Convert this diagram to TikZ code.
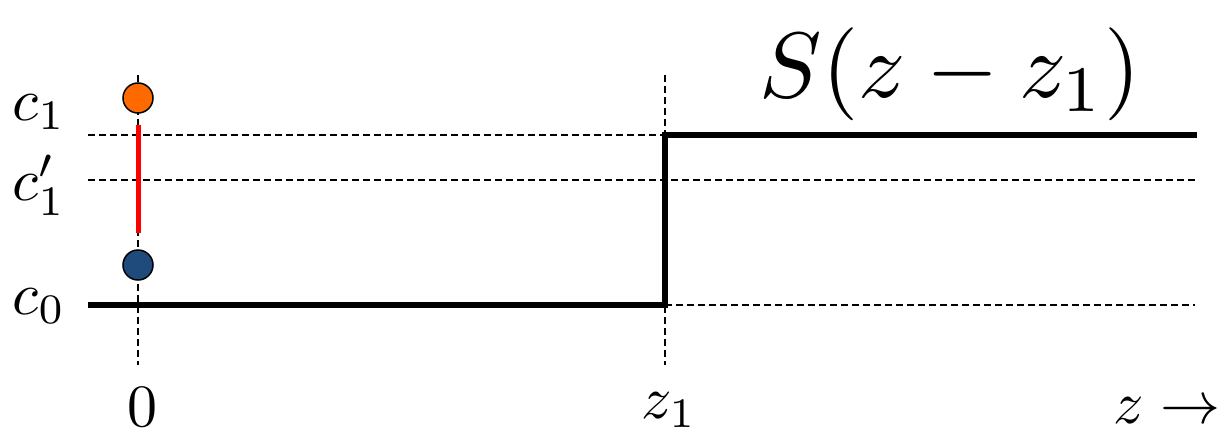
\documentclass[tikz,border=0pt]{standalone}
\usetikzlibrary{arrows.meta}
\definecolor{dotorange}{HTML}{FF6A00}
\definecolor{dotblue}{HTML}{1F4A7C}
\begin{document}
\begin{tikzpicture}[x=1pt,y=-1pt,
  guide/.style={black,line width=1.7pt,dash pattern=on 7pt off 4pt},
  stepline/.style={black,line width=6pt},
  dot/.style={circle,draw=black,line width=1.5pt,minimum size=30pt,inner sep=0pt},
  lbl/.style={scale=6,inner sep=0pt},
  biglbl/.style={scale=9.3,inner sep=0pt}]
\useasboundingbox (0,0) rectangle (1228,436);
% coordinates
\coordinate (v0t) at (138,75);
\coordinate (v0b) at (138,365);
\coordinate (v1t) at (665,75);
\coordinate (v1b) at (665,365);
\coordinate (c1l) at (88,135);
\coordinate (c1r) at (1195,135);
\coordinate (c1pl) at (88,180);
\coordinate (c1pr) at (1195,180);
\coordinate (c0l) at (88,305);
\coordinate (c0m) at (665,305);
\coordinate (c0r) at (1195,305);
\coordinate (c1m) at (665,135);
\coordinate (c1e) at (1197,135);
\coordinate (ra) at (138,125);
\coordinate (rb) at (138,233);
% guides
\draw[guide] (v0t) -- (v0b);
\draw[guide] (v1t) -- (v1b);
\draw[guide] (c1l) -- (c1r);
\draw[guide] (c1pl) -- (c1pr);
\draw[guide] (c0m) -- (c0r);
% step
\draw[stepline,line cap=butt,line join=miter] (c0l) -- (c0m) -- (c1m) -- (c1e);
% red segment
\draw[red,line width=5pt] (ra) -- (rb);
% dots
\node[dot,fill=dotorange] (o) at (138,98) {};
\node[dot,fill=dotblue] (b) at (138,265) {};
% labels
\node[lbl] (lc1) at (39,112) {$c_1$};
\node[lbl] (lc1p) at (39,185) {$c_1'$};
\node[lbl] (lc0) at (39,306) {$c_0$};
\node[lbl] (l0) at (142,407) {$0$};
\node[lbl] (lz1) at (669,410) {$z_1$};
\node[lbl] (lz) at (1167,411) {$z\rightarrow$};
\node[biglbl] (S) at (950,74) {$S(z-z_1)$};
\end{tikzpicture}
\end{document}
